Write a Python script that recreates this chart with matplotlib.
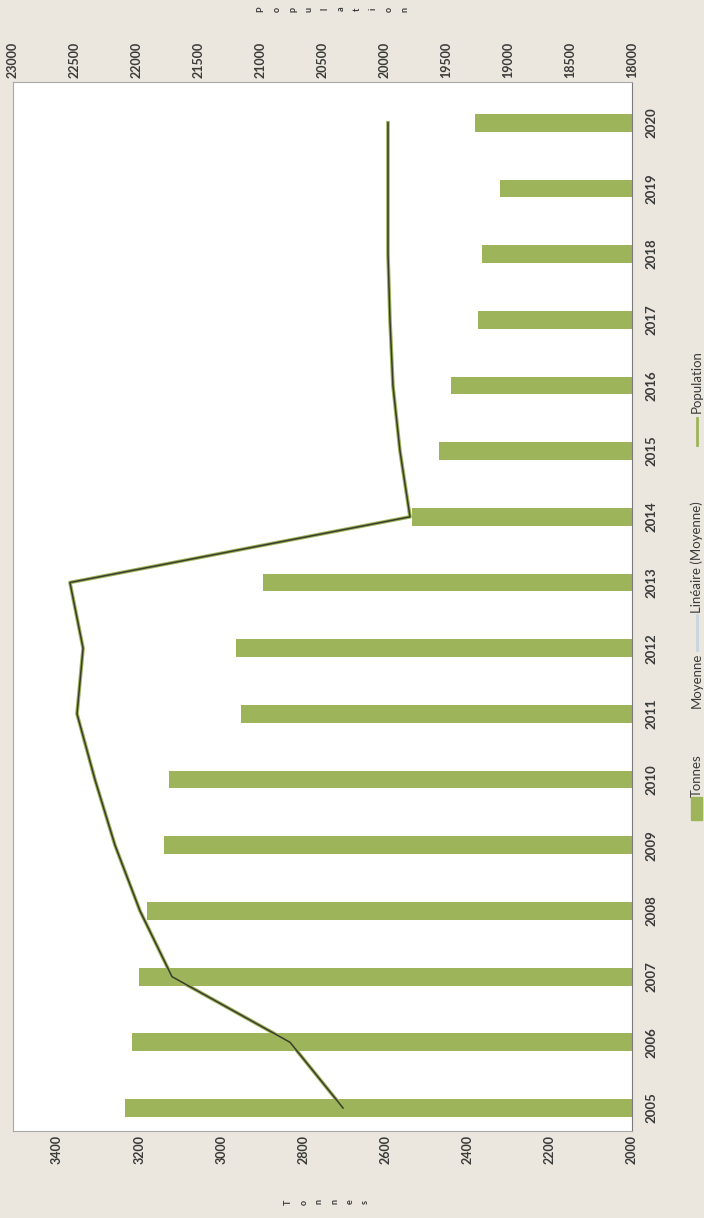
import matplotlib.pyplot as plt
from matplotlib.patches import Rectangle

plt.rcParams['font.family'] = ['Lato', 'DejaVu Sans']

years = list(range(2005, 2021))
tonnes = [3235, 3217, 3200, 3181, 3140, 3128, 2953, 2965, 2899,
          2535, 2471, 2440, 2374, 2365, 2321, 2382]
population = [20334, 20762, 21716, 21974, 22176, 22338, 22483, 22434, 22540,
              19793, 19874, 19931, 19955, 19971, 19971, 19971]

tonnes_ticks = list(range(2000, 3401, 200))
pop_ticks = list(range(18000, 23001, 500))
legend_labels = ['Tonnes', 'Moyenne', 'Linéaire (Moyenne)', 'Population']

green = '#9db45a'
paper = '#ebe7de'
txt = '#3a3a3a'

W, H = 704, 1218
fig = plt.figure(figsize=(W / 100, H / 100), dpi=100, facecolor=paper)

# the scanned chart is turned a quarter turn: years run upward on the right
ax = fig.add_axes([13 / W, 1 - 1131 / H, (632 - 13) / W, (1131 - 82) / H])
ax.set_facecolor('white')
ax.barh(years, tonnes, height=0.27, color=green, zorder=2)
ax.set_xlim(3507, 2000)
ax.set_ylim(2004.65, 2020.62)
ax.set_xticks(tonnes_ticks)
ax.set_xticklabels([str(t) for t in tonnes_ticks], rotation=90,
                   fontsize=9, fontweight='bold', color=txt)
ax.yaxis.tick_right()
ax.set_yticks(years)
ax.set_yticklabels([str(y) for y in years], rotation=90, va='center',
                   fontsize=9.5, fontweight='bold', color=txt)
ax.tick_params(axis='x', length=0, pad=3)
ax.tick_params(axis='y', length=0, pad=10)
for s in ax.spines.values():
    s.set_color('#a8a8a8')
    s.set_linewidth(0.8)
ax.spines['right'].set_color('#7a7a7a')

ax2 = ax.twiny()
# green line with a dark core, as it shows in the scan
ax2.plot(population, years, color=green, lw=2.6, zorder=3)
ax2.plot(population, years, color='#3b3b2c', lw=1.1, zorder=4)
ax2.set_xlim(23000, 18000)
ax2.set_xticks(pop_ticks)
ax2.set_xticklabels([str(p) for p in pop_ticks], rotation=90,
                    fontsize=9, fontweight='bold', color=txt)
ax2.tick_params(axis='x', length=0, pad=3)
for s in ax2.spines.values():
    s.set_visible(False)

# stacked axis titles
fig.text(333 / W, 1 - 9 / H, '\n'.join('Population'), rotation=90,
         ha='center', va='center', fontsize=6.5, fontweight='bold',
         color=txt, linespacing=2.0)
fig.text(327 / W, 1 - 1202 / H, '\n'.join('Tonnes'), rotation=90,
         ha='center', va='center', fontsize=6.5, fontweight='bold',
         color=txt, linespacing=1.9)

# legend, drawn sideways along the right edge
lax = fig.add_axes([0, 0, 1, 1], facecolor='none')
lax.set_xlim(0, W)
lax.set_ylim(H, 0)
lax.axis('off')
lax.add_patch(Rectangle((691, 797), 11, 23, color=green))
lax.text(697, 776, legend_labels[0], rotation=90, ha='center', va='center',
         fontsize=9.5, color=txt)
lax.text(697, 680, legend_labels[1], rotation=90, ha='center', va='center',
         fontsize=9.5, color=txt)
lax.plot([697, 697], [615, 650], color='#c9d5e2', lw=2)
lax.text(697, 557, legend_labels[2], rotation=90, ha='center', va='center',
         fontsize=9.5, color=txt)
lax.plot([697, 697], [418, 445], color=green, lw=2)
lax.text(697, 382, legend_labels[3], rotation=90, ha='center', va='center',
         fontsize=9.5, color=txt)

fig.savefig('out.png', dpi=100, facecolor=paper)
